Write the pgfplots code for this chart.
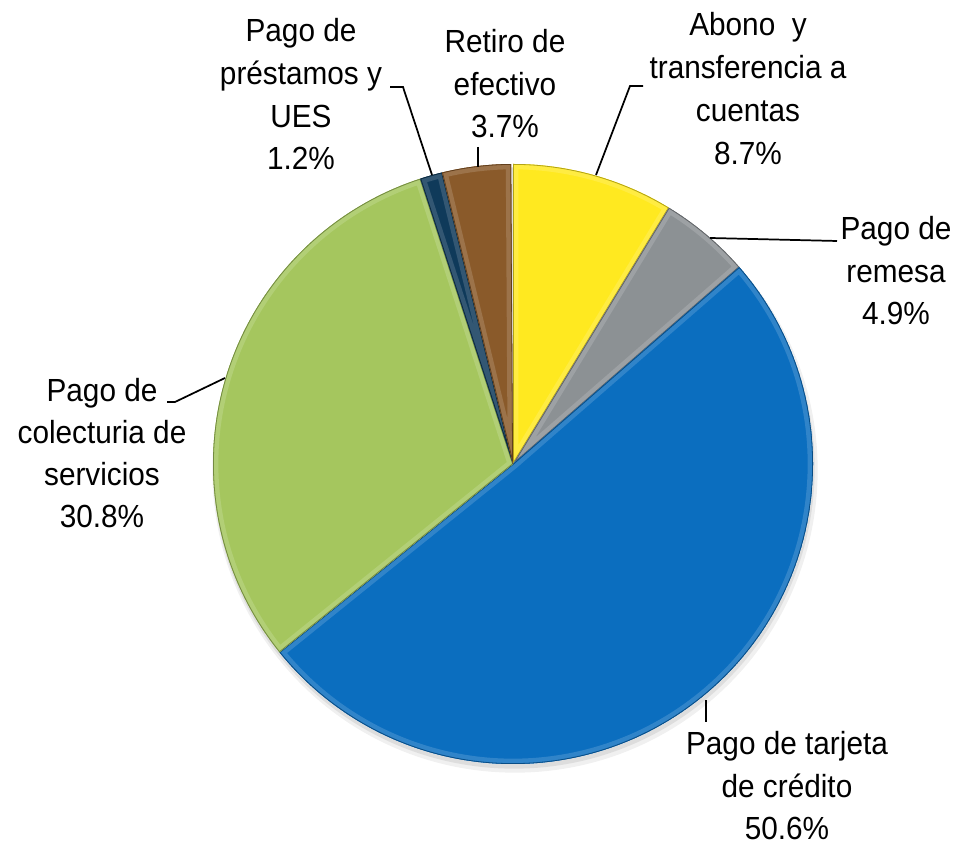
\documentclass[border=0pt]{standalone}
\usepackage{pgfplots}
\pgfplotsset{compat=1.18}
\usepackage{fontspec}
\setmainfont{Liberation Sans}[FakeStretch=0.93]
\newcommand\lf{\fontsize{24}{31.5}\selectfont}
\definecolor{cYel}{HTML}{FFE920}
\definecolor{cGry}{HTML}{8C9194}
\definecolor{cBlu}{HTML}{0B6EBF}
\definecolor{cGrn}{HTML}{A5C65E}
\definecolor{cNav}{HTML}{0F3A5A}
\definecolor{cBrn}{HTML}{8A5A2A}
% shares (percent), clockwise from 12 o'clock
\def\vAbono{8.7}
\def\vRemesa{4.9}
\def\vTarjeta{50.6}
\def\vColect{30.8}
\def\vPrest{1.2}
\def\vRetiro{3.7}
\newcommand\slice[3]{%
  \begin{scope}
    \clip (axis cs:513,381) -- ++(#1:225pt) arc[start angle=#1, end angle=#2, radius=225pt] -- cycle;
    \fill[#3] (axis cs:513,381) -- ++(#1:225pt) arc[start angle=#1, end angle=#2, radius=225pt] -- cycle;
    \draw[#3!85!white, line width=8pt] (axis cs:513,381) -- ++(#1:225pt) arc[start angle=#1, end angle=#2, radius=225pt] -- cycle;
    \draw[#3!70!black, line width=1.2pt] (axis cs:513,381) -- ++(#1:225pt) arc[start angle=#1, end angle=#2, radius=225pt] -- cycle;
  \end{scope}}
\tikzset{lbl/.style={anchor=base, inner sep=0pt, outer sep=0pt, font=\lf}}
\begin{document}
\begin{tikzpicture}
\pgfmathsetmacro\aA{90}
\pgfmathsetmacro\aB{\aA-3.6*\vAbono}
\pgfmathsetmacro\aC{\aB-3.6*\vRemesa}
\pgfmathsetmacro\aD{\aC-3.6*\vTarjeta}
\pgfmathsetmacro\aE{\aD-3.6*\vColect}
\pgfmathsetmacro\aF{\aE-3.6*\vPrest}
\pgfmathsetmacro\aG{\aF-3.6*\vRetiro}
\begin{axis}[
  scale only axis, width=717.75pt, height=633.75pt,
  xmin=0, xmax=957, ymin=0, ymax=845,
  hide axis, clip=false,
]
\path (axis cs:0,0) rectangle (axis cs:957,845);
% soft shadow
\fill[black, opacity=0.06] (axis cs:515,375) circle[radius=227pt];
\fill[black, opacity=0.08] (axis cs:514,377) circle[radius=225.5pt];
\slice{\aA}{\aB}{cYel}
\slice{\aB}{\aC}{cGry}
\slice{\aC}{\aD}{cBlu}
\slice{\aD}{\aE}{cGrn}
\slice{\aE}{\aF}{cNav}
\slice{\aF}{\aG}{cBrn}
% leader lines
\draw[black, line width=1.3pt] (axis cs:390,758) -- (axis cs:403,758) -- (axis cs:432,670);
\draw[black, line width=2pt] (axis cs:478,698) -- (axis cs:478,678);
\draw[black, line width=1.3pt] (axis cs:643,759) -- (axis cs:630,759) -- (axis cs:596,670);
\draw[black, line width=1.3pt] (axis cs:710,607) -- (axis cs:837,604);
\draw[black, line width=1.3pt] (axis cs:167,443) -- (axis cs:175,443) -- (axis cs:225,467);
\draw[black, line width=2pt] (axis cs:706,145) -- (axis cs:706,123);
% labels
\node[lbl] at (axis cs:301,803) {Pago de};
\node[lbl] at (axis cs:301,760) {préstamos y};
\node[lbl] at (axis cs:301,717) {UES};
\node[lbl] at (axis cs:301,675) {1.2\%};
\node[lbl] at (axis cs:505,792) {Retiro de};
\node[lbl] at (axis cs:505,749) {efectivo};
\node[lbl] at (axis cs:505,707) {3.7\%};
\node[lbl] at (axis cs:748,809) {Abono~ y};
\node[lbl] at (axis cs:748,766) {transferencia a};
\node[lbl] at (axis cs:748,723) {cuentas};
\node[lbl] at (axis cs:748,680) {8.7\%};
\node[lbl] at (axis cs:896,605) {Pago de};
\node[lbl] at (axis cs:896,562) {remesa};
\node[lbl] at (axis cs:896,520) {4.9\%};
\node[lbl] at (axis cs:102,443) {Pago de};
\node[lbl] at (axis cs:102,401) {colecturia de};
\node[lbl] at (axis cs:102,359) {servicios};
\node[lbl] at (axis cs:102,317) {30.8\%};
\node[lbl] at (axis cs:787,90) {Pago de tarjeta};
\node[lbl] at (axis cs:787,47) {de crédito};
\node[lbl] at (axis cs:787,5) {50.6\%};
\end{axis}
\end{tikzpicture}
\end{document}
